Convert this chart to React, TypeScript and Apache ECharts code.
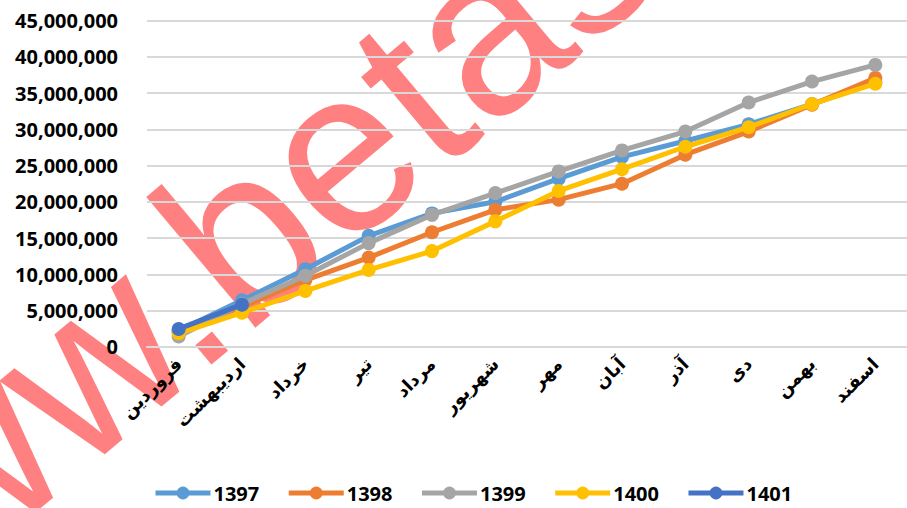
import React, { useEffect, useRef } from "react";
import * as echarts from "echarts";

const months = ["فروردین", "اردیبهشت", "خرداد", "تیر", "مرداد", "شهریور", "مهر", "آبان", "آذر", "دی", "بهمن", "اسفند"];
const s1397 = [2200000, 6400000, 10700000, 15300000, 18400000, 20000000, 23200000, 26200000, 28400000, 30700000, 33500000, 36500000];
const s1398 = [2100000, 5500000, 9200000, 12300000, 15800000, 18900000, 20300000, 22500000, 26500000, 29700000, 33400000, 37100000];
const s1399 = [1400000, 5900000, 9800000, 14300000, 18200000, 21200000, 24200000, 27100000, 29700000, 33700000, 36600000, 38900000];
const s1400 = [1850000, 4700000, 7700000, 10600000, 13200000, 17300000, 21500000, 24500000, 27600000, 30300000, 33500000, 36300000];
const s1401 = [2450000, 5800000];
const seriesNames = ["1397", "1398", "1399", "1400", "1401"];
const colors = ["#5B9BD5", "#ED7D31", "#A5A5A5", "#FFC000", "#4472C4"];
const watermark = "www.betasahm.com";

export default function App() {
  const ref = useRef<HTMLDivElement>(null);
  useEffect(() => {
    if (!ref.current) return;
    const chart = echarts.init(ref.current, null, { renderer: "svg" });
    const data = [s1397, s1398, s1399, s1400, s1401];
    chart.setOption({
      animation: false,
      backgroundColor: "#ffffff",
      color: colors,
      graphic: [
        {
          type: "text",
          z: -100,
          silent: true,
          x: -150,
          y: 715,
          rotation: (40 * Math.PI) / 180,
          scaleX: 0.97,
          style: {
            text: watermark,
            x: 0,
            y: 0,
            fill: "#FF8080",
            font: "235px 'Liberation Sans'",
            align: "left",
            verticalAlign: "bottom",
          },
        },
      ],
      grid: { left: 147, right: -9, top: 20.7, bottom: 161.3, containLabel: false },
      legend: {
        left: 153,
        top: 483,
        padding: 0,
        itemWidth: 55,
        itemHeight: 16,
        itemGap: 27,
        lineStyle: { width: 5 },
        textStyle: { fontSize: 20, fontWeight: "bold", color: "#000", fontFamily: "'Open Sans'", padding: [0, 0, 0, -2] },
        data: seriesNames,
      },
      xAxis: {
        type: "category",
        data: months,
        boundaryGap: true,
        axisLine: { show: true, lineStyle: { color: "#D9D9D9", width: 2 } },
        axisTick: { show: false },
        axisLabel: {
          rotate: 45,
          interval: 0,
          margin: 14,
          color: "#000",
          fontSize: 18,
          fontWeight: "bold",
          fontFamily: "'DejaVu Sans'",
        },
      },
      yAxis: {
        type: "value",
        min: 0,
        max: 45000000,
        interval: 5000000,
        axisLine: { show: false },
        axisTick: { show: false },
        splitLine: { lineStyle: { color: "#D9D9D9", width: 2 } },
        axisLabel: {
          margin: 29,
          color: "#000",
          fontSize: 20,
          fontWeight: "bold",
          fontFamily: "'Open Sans'",
          formatter: (v: number) => v.toLocaleString("en-US"),
        },
      },
      series: seriesNames.map((n, i) => ({
        name: n,
        type: "line",
        data: data[i],
        symbol: "circle",
        symbolSize: 14,
        lineStyle: { width: 5, color: colors[i] },
        itemStyle: { color: colors[i] },
        z: 2 + i,
      })),
    });
    return () => chart.dispose();
  }, []);
  return <div ref={ref} style={{ position: "fixed", left: 0, top: 0, width: 907, height: 508 }} />;
}
